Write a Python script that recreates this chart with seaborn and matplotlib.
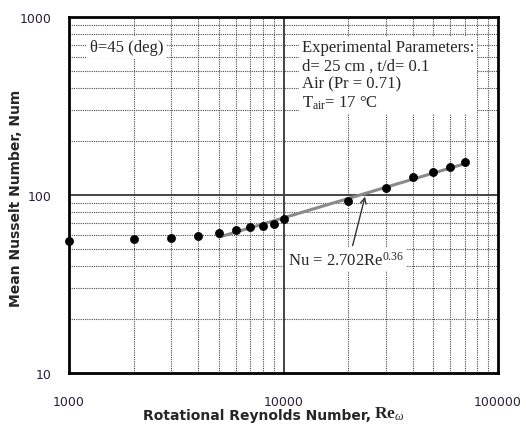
import numpy as np
import pandas as pd
import matplotlib
matplotlib.use("Agg")
import matplotlib.pyplot as plt
import seaborn as sns
from matplotlib.ticker import FixedLocator, NullFormatter, FixedFormatter

# Measured mean Nusselt number vs rotational Reynolds number (theta = 45 deg)
re_omega = [1000, 2000, 3000, 4000, 5000, 6000, 7000, 8000, 9000, 10000,
            20000, 30000, 40000, 50000, 60000, 70000]
nu_mean = [55.2, 56.6, 57.2, 58.9, 61.0, 63.8, 65.8, 66.7, 69.0, 73.0,
           92.2, 109.4, 126.8, 134.2, 143.6, 152.7]

# Correlation Nu = C * Re^n over the fitted range
fit_C = 2.702
fit_n = 0.36
fit_range = [5000, 70000]

x_ticks = [1000, 10000, 100000]
x_tick_labels = ["1000", "10000", "100000"]
y_ticks = [10, 100, 1000]
y_tick_labels = ["10", "100", "1000"]

sns.set_style("white")
plt.rcParams["mathtext.fontset"] = "custom"
plt.rcParams["mathtext.rm"] = "Liberation Serif"
plt.rcParams["mathtext.it"] = "Liberation Serif:italic"
plt.rcParams["mathtext.bf"] = "Liberation Serif:bold"

df = pd.DataFrame({"Re": re_omega, "Nu": nu_mean})
re_fit = np.array(fit_range, dtype=float)
df_fit = pd.DataFrame({"Re": re_fit, "Nu": fit_C * re_fit ** fit_n})

fig = plt.figure(figsize=(5.26, 4.27), dpi=100)
ax = fig.add_axes([0.1312, 0.1241, 0.8156, 0.8337])
ax.set_xscale("log")
ax.set_yscale("log")
ax.set_xlim(1000, 100000)
ax.set_ylim(10, 1000)

# minor grid: dotted; decade lines: solid
minor_x = [m * d for d in (1000, 10000) for m in range(2, 10)]
minor_y = [m * d for d in (10, 100) for m in range(2, 10)]
for xv in minor_x:
    ax.axvline(xv, color="#4a4a4a", lw=0.8, ls=(0, (1, 1)), zorder=1)
for yv in minor_y:
    ax.axhline(yv, color="#4a4a4a", lw=0.8, ls=(0, (1, 1)), zorder=1)
ax.axvline(10000, color="#444444", lw=1.4, zorder=1)
ax.axhline(100, color="#444444", lw=1.4, zorder=1)

sns.lineplot(data=df_fit, x="Re", y="Nu", ax=ax, color="#8a8a8a", lw=2.2, zorder=3)
sns.scatterplot(data=df, x="Re", y="Nu", ax=ax, color="black", s=34,
                edgecolor="black", linewidth=0.5, zorder=4, clip_on=False)

ax.xaxis.set_major_locator(FixedLocator(x_ticks))
ax.xaxis.set_major_formatter(FixedFormatter(x_tick_labels))
ax.xaxis.set_minor_formatter(NullFormatter())
ax.yaxis.set_major_locator(FixedLocator(y_ticks))
ax.yaxis.set_major_formatter(FixedFormatter(y_tick_labels))
ax.yaxis.set_minor_formatter(NullFormatter())
ax.tick_params(axis="both", which="both", length=0, labelsize=9, colors="#2a1f3a")
ax.tick_params(axis="x", pad=15.5)
ax.tick_params(axis="y", pad=12.5)

for s in ax.spines.values():
    s.set_color("black")
    s.set_linewidth(2)

# x label: sans words followed by a serif Re_omega symbol
xl = ax.set_xlabel("Rotational Reynolds Number,", fontsize=10, fontweight="bold")
ax.xaxis.set_label_coords(0.438, -0.099)
ax.annotate(r"$\mathbf{Re}_{\omega}$", xy=(1, 0), xycoords=xl,
            xytext=(2, 0.5), textcoords="offset points", fontsize=12.5,
            ha="left", va="bottom", annotation_clip=False)
ax.set_ylabel("Mean Nusselt Number, Num", fontsize=10, fontweight="bold")
ax.yaxis.set_label_coords(-0.107, 0.494)

serif = ["Liberation Serif", "DejaVu Serif"]
box = dict(facecolor="white", edgecolor="none", pad=2)
ax.text(0.049, 0.916, "θ=45 (deg)", transform=ax.transAxes, fontsize=12,
        family=serif, va="center", ha="left", bbox=box, zorder=5)
ax.text(0.543, 0.937,
        "Experimental Parameters:\nd= 25 cm , t/d= 0.1\nAir (Pr = 0.71)\n"
        r"T$_{\rm air}$= 17 °C",
        transform=ax.transAxes, fontsize=12, family=serif, va="top", ha="left",
        linespacing=1.17, bbox=box, zorder=5)

ax.text(10500, 43.5, r"Nu = 2.702Re$^{0.36}$", fontsize=12, family=serif,
        va="center", ha="left", bbox=box, zorder=5)
ax.annotate("", xy=(24000, 98), xytext=(21000, 52),
            arrowprops=dict(arrowstyle="->", color="#333333", lw=1.0,
                            shrinkA=0, shrinkB=0), zorder=5)

fig.savefig("out.png", dpi=100)
